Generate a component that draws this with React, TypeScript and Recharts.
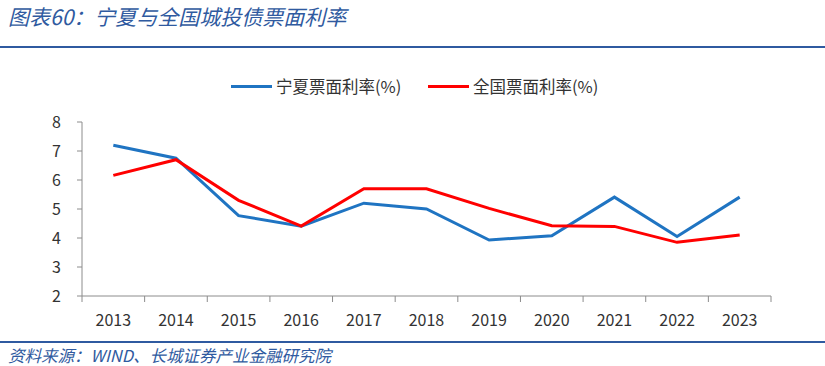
import React from "react";
import { LineChart, Line, XAxis, YAxis } from "recharts";

const YEARS = ["2013", "2014", "2015", "2016", "2017", "2018", "2019", "2020", "2021", "2022", "2023"];
const NINGXIA = [7.2, 6.75, 4.77, 4.41, 5.2, 5.0, 3.93, 4.08, 5.41, 4.05, 5.41];
const NATIONAL = [6.16, 6.7, 5.3, 4.41, 5.7, 5.7, 5.02, 4.42, 4.4, 3.85, 4.1];
const Y_TICKS = [2, 3, 4, 5, 6, 7, 8];

const BLUE = "#1f74c2";
const RED = "#ff0000";
const AXIS = "#8c8c8c";
const TITLE_BLUE = "#2f5aa0";
const FONT = "'Noto Sans CJK SC', 'Noto Sans', sans-serif";

const W = 825;
const H = 366;
const MARGIN = { top: 122, right: 54, bottom: 40, left: 44 };
const Y_WIDTH = 38;
const PLOT_W = W - MARGIN.left - Y_WIDTH - MARGIN.right;
const BAND = PLOT_W / YEARS.length;

const data = YEARS.map((y, i) => ({ year: y, nx: NINGXIA[i], qg: NATIONAL[i] }));

const TICK = { fill: "#333", fontSize: 16, fontFamily: FONT };

// category label at band centre, tick marks on band edges
function YearTick(props: any) {
  const { x, y, payload, index } = props;
  const last = index === YEARS.length - 1;
  return (
    <g>
      <line x1={x - BAND / 2} x2={x - BAND / 2} y1={y} y2={y + 6} stroke={AXIS} />
      {last && <line x1={x + BAND / 2} x2={x + BAND / 2} y1={y} y2={y + 6} stroke={AXIS} />}
      <text x={x} y={y + 30} textAnchor="middle" {...TICK}>
        {payload.value}
      </text>
    </g>
  );
}

export default function App() {
  return (
    <div
      style={{
        position: "absolute",
        left: 0,
        top: 0,
        width: W,
        height: H,
        background: "#fff",
        fontFamily: FONT,
        overflow: "hidden",
      }}
    >
      <div
        style={{
          position: "absolute",
          left: 8,
          top: 1,
          fontSize: 21,
          fontStyle: "italic",
          color: TITLE_BLUE,
          whiteSpace: "nowrap",
        }}
      >
        图表60：宁夏与全国城投债票面利率
      </div>
      <div style={{ position: "absolute", left: 0, top: 46, width: W, height: 2, background: TITLE_BLUE }} />

      {/* legend */}
      <div style={{ position: "absolute", left: 231, top: 85, width: 41, height: 3, background: BLUE }} />
      <div style={{ position: "absolute", left: 276, top: 74, fontSize: 16.5, color: "#333", whiteSpace: "nowrap" }}>
        宁夏票面利率(%)
      </div>
      <div style={{ position: "absolute", left: 428, top: 85, width: 41, height: 3, background: RED }} />
      <div style={{ position: "absolute", left: 473, top: 74, fontSize: 16.5, color: "#333", whiteSpace: "nowrap" }}>
        全国票面利率(%)
      </div>

      <div style={{ position: "absolute", left: 0, top: 0 }}>
        <LineChart width={W} height={H} data={data} margin={MARGIN}>
          <XAxis
            dataKey="year"
            tick={<YearTick />}
            tickLine={false}
            stroke={AXIS}
            tickSize={0}
            tickMargin={0}
            height={30}
            interval={0}
            padding={{ left: BAND / 2, right: BAND / 2 }}
          />
          <YAxis
            domain={[2, 8]}
            ticks={Y_TICKS}
            tick={TICK}
            stroke={AXIS}
            tickSize={5}
            tickMargin={16}
            width={Y_WIDTH}
            allowDataOverflow
          />
          <Line dataKey="nx" stroke={BLUE} strokeWidth={3} dot={false} isAnimationActive={false} />
          <Line dataKey="qg" stroke={RED} strokeWidth={3} dot={false} isAnimationActive={false} />
        </LineChart>
      </div>

      <div style={{ position: "absolute", left: 0, top: 341, width: W, height: 2, background: TITLE_BLUE }} />
      <div
        style={{
          position: "absolute",
          left: 8,
          top: 343,
          fontSize: 16.5,
          fontStyle: "italic",
          color: TITLE_BLUE,
          whiteSpace: "nowrap",
        }}
      >
        资料来源：WIND、长城证券产业金融研究院
      </div>
    </div>
  );
}
